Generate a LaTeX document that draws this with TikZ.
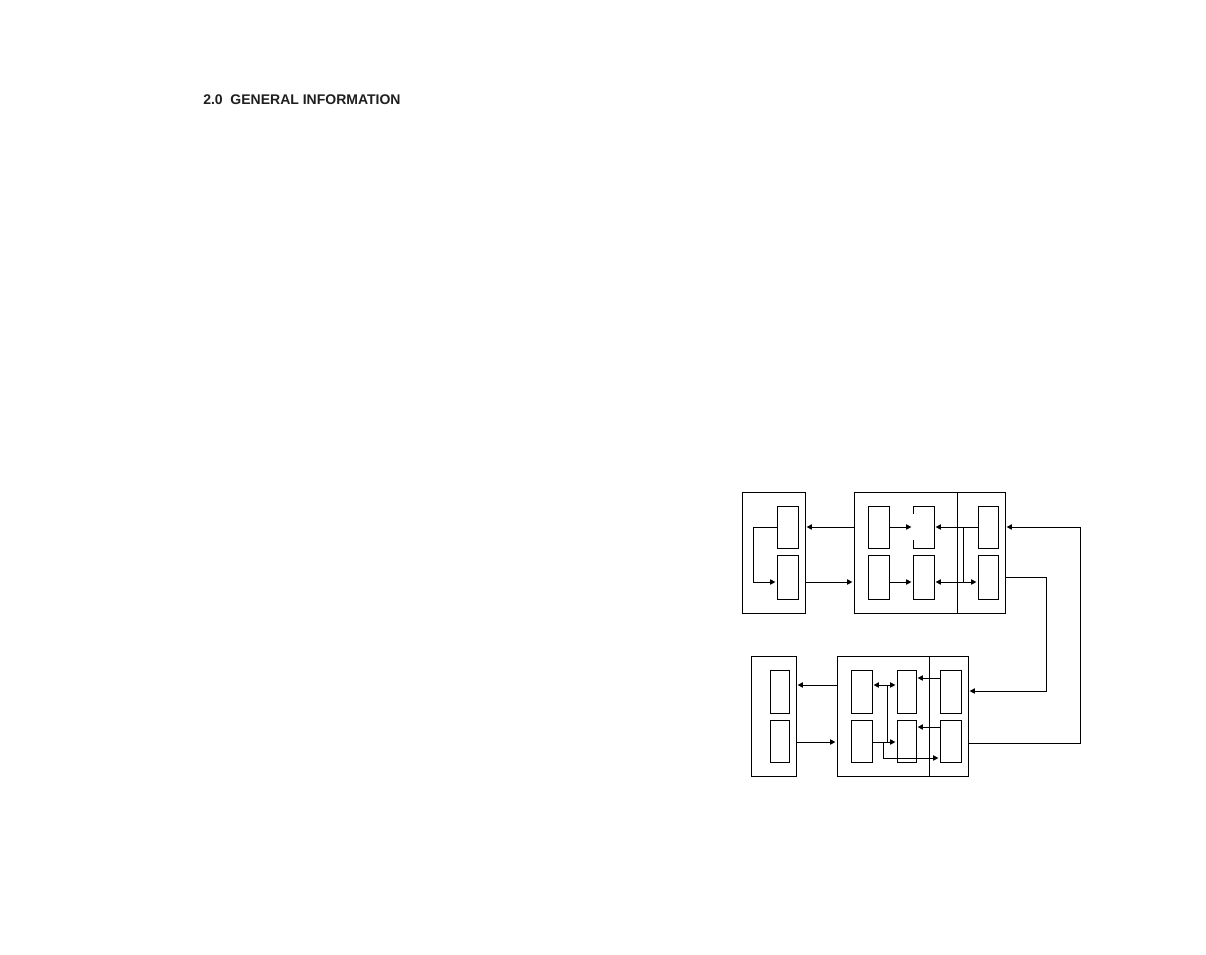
\documentclass[tikz,border=0pt]{standalone}
\usepackage{fontspec}
\setmainfont{Liberation Sans}
\usetikzlibrary{fit,arrows.meta}
\begin{document}
\begin{tikzpicture}[x=0.75pt,y=-0.75pt,
  blk/.style={draw,line width=0.75pt,inner sep=0pt,outer sep=0pt},
  open/.style={inner sep=0pt,outer sep=0pt},
  wire/.style={line width=0.75pt},
  arr/.style={wire,-{Triangle[length=4pt,width=4pt]},shorten >=1.2pt},
  darr/.style={wire,{Triangle[length=4pt,width=4pt]}-{Triangle[length=4pt,width=4pt]},shorten >=1.2pt,shorten <=1.2pt},
  title/.style={anchor=base west,inner sep=0pt,text=black!88,font=\fontsize{10.5pt}{12pt}\selectfont\bfseries}]
\useasboundingbox (0,0) rectangle (1206,954);
\fill[white] (0,0) rectangle (1206,954);

\node[title] (ttl) at (203,104.5) {2.0\ \ GENERAL INFORMATION};

% ---------- top group ----------
\node[blk,fit={(742,492)(805,613)}] (A) {};
\node[blk,fit={(777,506)(798,548)}] (A1) {};
\node[blk,fit={(777,555)(798,599)}] (A2) {};
\node[blk,fit={(854,492)(957,613)}] (B) {};
\node[blk,fit={(957,492)(1005,613)}] (C) {};
\node[blk,fit={(868,506)(889,548)}] (B1) {};
\node[blk,fit={(868,555)(889,599)}] (B2) {};
\node[open,fit={(913,506)(934,548)}] (B3) {};
\draw[wire] (913,514) -- (B3.north west) -- (B3.north east) -- (B3.south east) -- (B3.south west) -- (913,540);
\node[blk,fit={(913,555)(934,599)}] (B4) {};
\node[blk,fit={(978,506)(998,548)}] (C1) {};
\node[blk,fit={(978,555)(998,599)}] (C2) {};

\coordinate (yT) at (0,527);
\coordinate (yB) at (0,582);
\coordinate (busT) at (963,527);
\coordinate (busB) at (963,582);

\draw[arr] (A1.west) -- (753,527) |- (A2.west |- yB);
\draw[arr] (B.west |- yT) -- (A.east |- yT);
\draw[arr] (A.east |- yB) -- (B.west |- yB);
\draw[arr] (B1.east |- yT) -- (B3.west |- yT);
\draw[arr] (B2.east |- yB) -- (B4.west |- yB);
\draw[wire] (C1.west |- yT) -- (busT) -- (busB);
\draw[arr] (busT) -- (B3.east |- yT);
\draw[arr] (busB) -- (C2.west |- yB);
\draw[arr] (busB) -- (B4.east |- yB);

% ---------- bottom group ----------
\node[blk,fit={(751,656)(796,776)}] (D) {};
\node[blk,fit={(770,670)(789,713)}] (D1) {};
\node[blk,fit={(770,720)(789,762)}] (D2) {};
\node[blk,fit={(837,656)(929,776)}] (E) {};
\node[blk,fit={(929,656)(968,776)}] (F) {};
\node[blk,fit={(851,670)(872,713)}] (E1) {};
\node[blk,fit={(851,720)(872,762)}] (E2) {};
\node[blk,fit={(897,670)(916,713)}] (E3) {};
\node[blk,fit={(897,720)(916,762)}] (E4) {};
\node[blk,fit={(940,670)(961,713)}] (F1) {};
\node[blk,fit={(940,720)(961,762)}] (F2) {};

\coordinate (yE) at (0,685);
\coordinate (yL) at (0,742);
\coordinate (yF1) at (0,678);
\coordinate (yF2) at (0,727);
\coordinate (yG) at (0,758);

\draw[arr] (E.west |- yE) -- (D.east |- yE);
\draw[arr] (D.east |- yL) -- (E.west |- yL);
\draw[darr] (E1.east |- yE) -- (E3.west |- yE);
\draw[wire] (887,685) -- (887,742);
\draw[arr] (E2.east |- yL) -- (E4.west |- yL);
\draw[arr] (883,742) |- (F2.west |- yG);
\draw[arr] (F1.west |- yF1) -- (E3.east |- yF1);
\draw[arr] (F2.west |- yF2) -- (E4.east |- yF2);

% ---------- links between groups ----------
\draw[arr] (C.east |- 0,577) -- (1046,577) |- (F.east |- 0,691);
\draw[arr] (F.east |- 0,743) -- (1080,743) |- (C.east |- yT);
\end{tikzpicture}
\end{document}
